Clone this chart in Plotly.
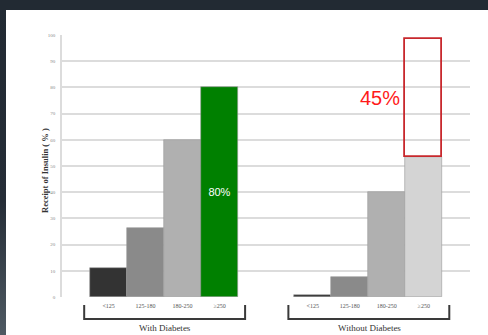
import base64
import plotly.graph_objects as go

# Glucose bands and insulin receipt (%) per patient group
bands = ["<125", "125-180", "180-250", "≥250"]
with_diabetes = [11, 26.5, 60, 80]
without_diabetes = [0.7, 7.6, 40, 53.5]
increase_pct = 45          # extra share shown above the top band, without diabetes
group_names = ["With Diabetes", "Without Diabetes"]

band_colors = ["#333333", "#8a8a8a", "#b0b0b0"]
top_colors = ["#008000", "#d4d4d4"]

W, H = 488, 335
ML, MR, MT, MB = 62, 18, 35, 38
PW, PH = W - ML - MR, H - MT - MB

# bar positions: two groups of four contiguous bars with a gap between
pos1 = [0, 1, 2, 3]
pos2 = [5.52, 6.52, 7.52, 8.52]

fig = go.Figure()

for pos, vals, top_col in [(pos1, with_diabetes, top_colors[0]),
                           (pos2, without_diabetes, top_colors[1])]:
    colors = band_colors + [top_col]
    fig.add_trace(go.Bar(
        x=pos, y=vals, width=1.0,
        marker=dict(color=colors, line=dict(color="#9a9a9a", width=0.6)),
        showlegend=False, hoverinfo="skip",
    ))

# value label inside the green bar
fig.add_trace(go.Bar(
    x=[pos1[3]], y=[with_diabetes[3]], width=1.0,
    marker=dict(color="rgba(0,0,0,0)", line=dict(width=0)),
    text=[f"{with_diabetes[3]:.0f}%"], textposition="inside",
    insidetextanchor="middle",
    textfont=dict(color="white", size=11, family="Liberation Sans, Arial"),
    showlegend=False, hoverinfo="skip",
))

# outlined increase box stacked on the top band without diabetes
fig.add_trace(go.Bar(
    x=[pos2[3]], y=[increase_pct], base=[without_diabetes[3]], width=1.0,
    marker=dict(color="rgba(255,255,255,0)", line=dict(color="#c8282d", width=1.8)),
    showlegend=False, hoverinfo="skip",
))

fig.add_annotation(
    x=pos2[3] - 0.5, y=without_diabetes[3] + increase_pct / 2,
    xref="x", yref="y", text=f"{increase_pct}%", showarrow=False,
    xanchor="right", yanchor="middle", xshift=-3,
    font=dict(color="#ff1a1a", size=20, family="Liberation Sans, Arial"),
)


def px_x(pix):
    return (pix - ML) / PW


def py(pix):
    return (H - MB - pix) / PH


# dark slide frame: a band across the top and a strip on the left that
# lightens towards the bottom
svg = (
    f'<svg xmlns="http://www.w3.org/2000/svg" width="{W}" height="{H}">'
    '<defs><linearGradient id="g" x1="0" y1="0" x2="0" y2="1">'
    '<stop offset="0" stop-color="#222a33"/>'
    '<stop offset="0.6" stop-color="#252d37"/>'
    '<stop offset="1" stop-color="#4f5a63"/>'
    '</linearGradient></defs>'
    f'<rect x="0" y="0" width="{W}" height="{H}" fill="url(#g)"/>'
    f'<rect x="0" y="0" width="{W}" height="10" fill="#222a33"/>'
    f'<rect x="6" y="10" width="{W - 6}" height="{H - 10}" fill="#ffffff"/>'
    '</svg>'
)
bg_uri = "data:image/svg+xml;base64," + base64.b64encode(svg.encode()).decode()

fig.add_layout_image(
    source=bg_uri, xref="paper", yref="paper",
    x=px_x(0), y=py(0), sizex=W / PW, sizey=H / PH,
    xanchor="left", yanchor="top", sizing="stretch", layer="below",
)

shapes = []
# brackets under each group
for pos in (pos1, pos2):
    x0 = pos[0] - 0.66
    x1 = pos[-1] + 0.69
    ytop, ybot = py(305), py(319)
    shapes.append(dict(type="path", xref="x", yref="paper",
                       path=f"M {x0},{ytop} L {x0},{ybot} L {x1},{ybot} L {x1},{ytop}",
                       line=dict(color="#3a3a3a", width=2)))

for pos, name in zip((pos1, pos2), group_names):
    fig.add_annotation(
        x=(pos[0] + pos[-1]) / 2 + 0.02, y=py(328), xref="x", yref="paper",
        text=name, showarrow=False, yanchor="middle",
        font=dict(family="Liberation Serif, Times New Roman", size=9, color="#333333"),
    )

# y-axis title
fig.add_annotation(
    x=px_x(38), y=py(171), xref="paper", yref="paper",
    text="<b>Receipt of Insulin ( % )</b>", showarrow=False, textangle=-90,
    font=dict(family="Liberation Serif, Times New Roman", size=8.5, color="#333333"),
)

fig.update_layout(
    width=W, height=H,
    margin=dict(l=ML, r=MR, t=MT, b=MB),
    paper_bgcolor="white", plot_bgcolor="rgba(0,0,0,0)",
    barmode="overlay", bargap=0,
    shapes=shapes,
    xaxis=dict(
        range=[-1.26, 9.77],
        tickvals=pos1 + pos2, ticktext=bands + bands,
        tickfont=dict(family="Liberation Serif, Times New Roman", size=6, color="#555555"),
        showgrid=False, zeroline=False, showline=False, ticks="",
        ticklabelstandoff=4,
    ),
    yaxis=dict(
        range=[0, 100], dtick=10,
        tickfont=dict(family="Liberation Serif, Times New Roman", size=5, color="#888888"),
        showgrid=True, gridcolor="#dcdcdc", gridwidth=1.5,
        zeroline=False, showline=True, linecolor="#dcdcdc", linewidth=1.5,
        ticks="", ticklabelstandoff=4,
    ),
)

fig.write_html("out.html")
